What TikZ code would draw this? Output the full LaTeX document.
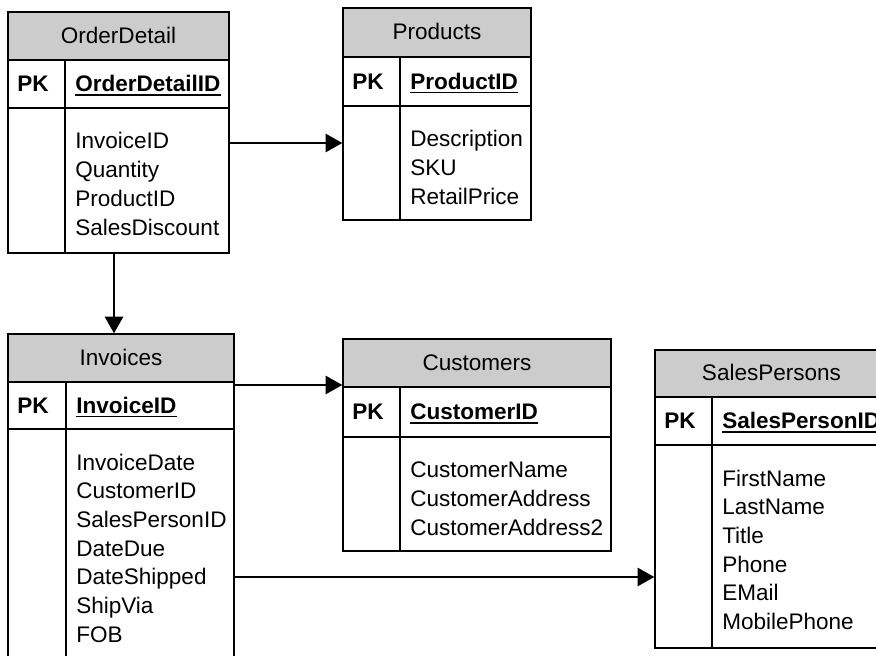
\documentclass[tikz,border=0pt]{standalone}
\usepackage{fontspec}
\setmainfont{Liberation Sans}
\usetikzlibrary{arrows.meta,fit}

\definecolor{hdrgray}{RGB}{204,204,204}
\newcommand\erdfont{\fontsize{16.9pt}{20pt}\selectfont}
\newcommand\erdbold{\erdfont\bfseries}

% Frame of one table: grey title band, PK row and the key/field divider.
% #1 name, #2 left, #3 right, #4 top, #5 title bottom, #6 key row bottom,
% #7 bottom, #8 x of the PK column divider
\newcommand\erdframe[8]{%
  \def\tL{#2}\def\tR{#3}\def\tT{#4}\def\tH{#5}\def\tP{#6}\def\tB{#7}\def\tD{#8}%
  \fill[hdrgray] (#2,#4) rectangle (#3,#5);
  \draw[rule] (#2,#5) -- (#3,#5) (#2,#6) -- (#3,#6) (#8,#5) -- (#8,#7);
  \node[framebox, fit={(#2,#4) (#3,#7)}] (#1) {};
}
% Texts of the table last framed: #1 name, #2 title, #3 key, #4 fields
\newcommand\erdtext[4]{%
  \node[celltext, anchor=base] (#1-title) at ({(\tL+\tR)/2},{(\tT+\tH)/2+7.5}) {#2};
  \node[celltext, font=\erdbold, anchor=base west] (#1-pk) at ({\tL+9},{(\tH+\tP)/2+8}) {PK};
  \node[celltext, font=\erdbold, anchor=base west] (#1-key) at ({\tD+10},{(\tH+\tP)/2+8}) {#3};
  \draw[keyline] ([yshift=-2.2pt]#1-key.base west) -- ([yshift=-2.2pt]#1-key.base east);
  \foreach \f [count=\i from 0] in {#4}
    \node[celltext, anchor=base west] (#1-f\i) at ({\tD+10},{\tP+41+\i*28.7}) {\f};
}

\tikzset{
  rule/.style={line width=1pt},
  framebox/.style={draw, line width=1pt, inner sep=0pt},
  celltext/.style={font=\erdfont, inner sep=0pt, text=black},
  keyline/.style={line width=1.3pt},
  link/.style={line width=2pt, -{Triangle[length=12.5pt,width=13.5pt]}},
}

\begin{document}
\begin{tikzpicture}[x=0.75pt, y=-0.75pt]
\path[use as bounding box, clip] (0,0) rectangle (876,656);

\erdframe{od}{8}{229}{12}{60}{108}{253}{65}
\erdtext{od}{OrderDetail}{OrderDetailID}{InvoiceID,Quantity,ProductID,SalesDiscount}

\erdframe{prod}{343}{531}{8}{57}{106}{220}{400}
\erdtext{prod}{Products}{ProductID}{Description,SKU,RetailPrice}

\erdframe{inv}{8}{234}{334}{382}{429}{700}{66}
\erdtext{inv}{Invoices}{InvoiceID}{InvoiceDate,CustomerID,SalesPersonID,DateDue,DateShipped,ShipVia,FOB}

\erdframe{cust}{343}{611}{339}{387}{437}{551}{400}
\erdtext{cust}{Customers}{CustomerID}{CustomerName,CustomerAddress,CustomerAddress2}

\erdframe{sp}{655}{888}{350}{397}{445}{648}{712}
\erdtext{sp}{SalesPersons}{SalesPersonID}{FirstName,LastName,Title,Phone,EMail,MobilePhone}

% Relationships
\draw[link] (od.east |- 0,143) -- (prod.west |- 0,143);
\draw[link] (od.south -| 114,0) -- (inv.north -| 114,0);
\draw[link] (inv.east |- 0,385) -- (cust.west |- 0,385);
\draw[link] (inv.east |- 0,577) -- (sp.west |- 0,577);
\end{tikzpicture}
\end{document}
